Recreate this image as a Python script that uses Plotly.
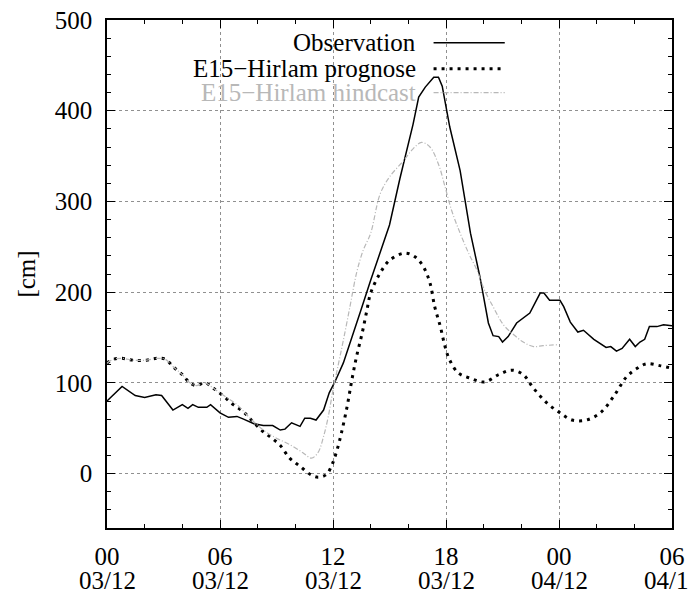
import plotly.graph_objects as go

# ---- data (hours since 03/12 00 UTC, water level in cm) ----
obs_t = [0, 0.8, 1.5, 2.0, 2.6, 2.9, 3.5, 4.0, 4.3, 4.55, 4.85, 5.3, 5.5, 6.0, 6.45, 6.9, 7.25, 7.8, 8.3, 8.8,
         9.2, 9.45, 9.8, 10.25, 10.5, 10.8, 11.1, 11.5, 11.8, 12.1, 12.55, 13.1, 13.45, 14.0, 14.65, 15.0, 15.55,
         16.25, 16.55, 16.9, 17.35, 17.6, 17.8, 18.2, 18.75, 19.3, 19.8, 20.25, 20.5, 20.8, 21.0, 21.3, 21.75,
         22.45, 23.0, 23.2, 23.5, 24.05, 24.25, 24.6, 25.0, 25.3, 25.85, 26.5, 26.75, 27.05, 27.35, 27.75, 28.05,
         28.3, 28.55, 28.8, 29.2, 29.55, 30.0]
obs_v = [80, 96, 86, 84, 87, 86, 70, 76, 72, 76, 73, 73, 76, 67, 62, 63, 60, 55, 53, 53,
         48, 49, 56, 52, 61, 61, 59, 70, 89, 101, 122, 155, 178, 213, 252, 274, 325,
         385, 415, 426, 437, 437, 427, 382, 334, 265, 217, 166, 152, 151, 145, 151, 166,
         177, 199, 199, 191, 191, 184, 167, 156, 158, 148, 139, 140, 135, 138, 148, 140,
         145, 148, 162, 162, 164, 163]

prog_t = [0, 0.35, 0.8, 1.4, 2.1, 2.65, 3.1, 3.5, 4.0, 4.4, 4.75, 5.2, 5.65, 6.2, 6.7, 7.25, 7.8, 8.3, 8.75,
          9.2, 9.7, 10.25, 10.8, 11.2, 11.65, 11.95, 12.2, 12.45, 12.75, 13.0, 13.25, 13.55, 13.8, 14.0, 14.5,
          15.0, 15.8, 16.35, 16.8, 17.15, 17.4, 17.7, 17.95, 18.2, 18.65, 19.3, 20.05, 20.8, 21.5, 22.1, 22.65,
          23.35, 24.05, 24.7, 25.45, 26.2, 26.9, 27.6, 28.15, 28.65, 29.35, 30.0]
prog_v = [122, 126, 127, 125, 125, 127, 126, 118, 109, 100, 97, 100, 94, 85, 76, 68, 56, 46, 39,
          31, 17, 8, -1, -4, -1, 10, 25, 45, 74, 103, 129, 155, 180, 199, 221,
          235, 243, 239, 228, 210, 184, 162, 140, 125, 111, 105, 101, 109, 114, 109, 94,
          78, 67, 59, 59, 67, 85, 107, 116, 121, 119, 116]

hind_t = [0, 0.35, 0.8, 1.4, 2.1, 2.65, 3.1, 3.5, 4.0, 4.4, 4.75, 5.2, 5.65, 6.2, 6.9, 7.6, 8.3, 9.0, 9.7,
          10.4, 10.85, 11.2, 11.5, 11.75, 12.0, 12.3, 12.55, 12.9, 13.25, 13.6, 14.0, 14.5, 15.0, 15.75, 16.25,
          16.7, 17.15, 17.6, 17.95, 18.3, 18.75, 19.2, 19.65, 20.05, 20.5, 21.05, 21.6, 22.1, 22.65, 23.15, 23.9]
hind_v = [122, 126, 127, 125, 125, 127, 126, 118, 109, 100, 97, 100, 94, 86, 76, 61, 48, 39, 32,
          23, 17, 23, 41, 63, 92, 122, 147, 184, 221, 246, 265, 308, 327, 345, 358,
          365, 360, 341, 316, 290, 265, 243, 224, 202, 184, 164, 153, 145, 140, 141, 142]

tick_vals = [0, 6, 12, 18, 24, 30]
tick_hours = ["00", "06", "12", "18", "00", "06"]
tick_dates = ["03/12", "03/12", "03/12", "03/12", "04/12", "04/12"]
y_ticks = [0, 100, 200, 300, 400, 500]

names = ["Observation", "E15\u2212Hirlam prognose", "E15\u2212Hirlam hindcast"]
FONT = "Liberation Serif, Times New Roman, serif"
GRAY = "#b8b8b8"
FS = 25

fig = go.Figure()
fig.add_trace(go.Scatter(x=obs_t, y=obs_v, mode="lines", name=names[0],
                         line=dict(color="black", width=1.5)))
fig.add_trace(go.Scatter(x=prog_t, y=prog_v, mode="lines", name=names[1],
                         line=dict(color="black", width=3, dash="3px,5px", shape="spline")))
fig.add_trace(go.Scatter(x=hind_t, y=hind_v, mode="lines", name=names[2],
                         line=dict(color=GRAY, width=1.2, dash="5px,2px,1px,2px", shape="spline")))

axis_common = dict(showline=True, linecolor="black", linewidth=1.5, mirror="allticks",
                   ticks="inside", ticklen=8, tickcolor="black", tickwidth=1,
                   showgrid=True, gridcolor="#909090", griddash="dot", gridwidth=1,
                   zeroline=False, automargin=False,
                   tickfont=dict(family=FONT, size=FS, color="black"))

fig.update_xaxes(range=[0, 30], tickmode="array", tickvals=tick_vals, ticktext=tick_hours,
                 minor=dict(dtick=2, ticks="inside", ticklen=4, tickcolor="black", showgrid=False),
                 ticklabelstandoff=5, **axis_common)
fig.update_yaxes(range=[-60, 500], tickmode="array", tickvals=y_ticks,
                 minor=dict(dtick=20, tick0=0, ticks="inside", ticklen=4, tickcolor="black", showgrid=False),
                 ticklabelstandoff=8,
                 title=dict(text="[cm]", font=dict(family=FONT, size=FS, color="black"), standoff=12),
                 **axis_common)

annotations = []
# second row of x tick labels (dates)
for v, d in zip(tick_vals, tick_dates):
    annotations.append(dict(x=v, y=0, xref="x", yref="paper", yshift=-52, text=d, showarrow=False,
                            xanchor="center", yanchor="middle",
                            font=dict(family=FONT, size=FS, color="black")))

# legend (text right-aligned, sample to the right), gnuplot style
leg_y = [0.955, 0.904, 0.857]
leg_col = ["black", "black", GRAY]
leg_dash = ["solid", "3px,5px", "5px,2px,1px,2px"]
leg_w = [1.5, 3, 1.2]
shapes = []
for i in range(3):
    annotations.append(dict(x=0.551, y=leg_y[i], xref="paper", yref="paper", text=names[i],
                            showarrow=False, xanchor="right", yanchor="middle",
                            font=dict(family=FONT, size=FS, color=leg_col[i])))
    shapes.append(dict(type="line", xref="paper", yref="paper", x0=0.578, x1=0.704,
                       y0=leg_y[i], y1=leg_y[i],
                       line=dict(color=leg_col[i], width=leg_w[i], dash=leg_dash[i])))

fig.update_layout(width=688, height=591, margin=dict(l=107, r=16, t=20, b=63),
                  paper_bgcolor="white", plot_bgcolor="white", showlegend=False,
                  annotations=annotations, shapes=shapes,
                  font=dict(family=FONT, size=FS, color="black"))

fig.write_html("out.html", config={"displayModeBar": False},
               post_script="document.body.style.margin='0';document.body.style.overflow='hidden';")
